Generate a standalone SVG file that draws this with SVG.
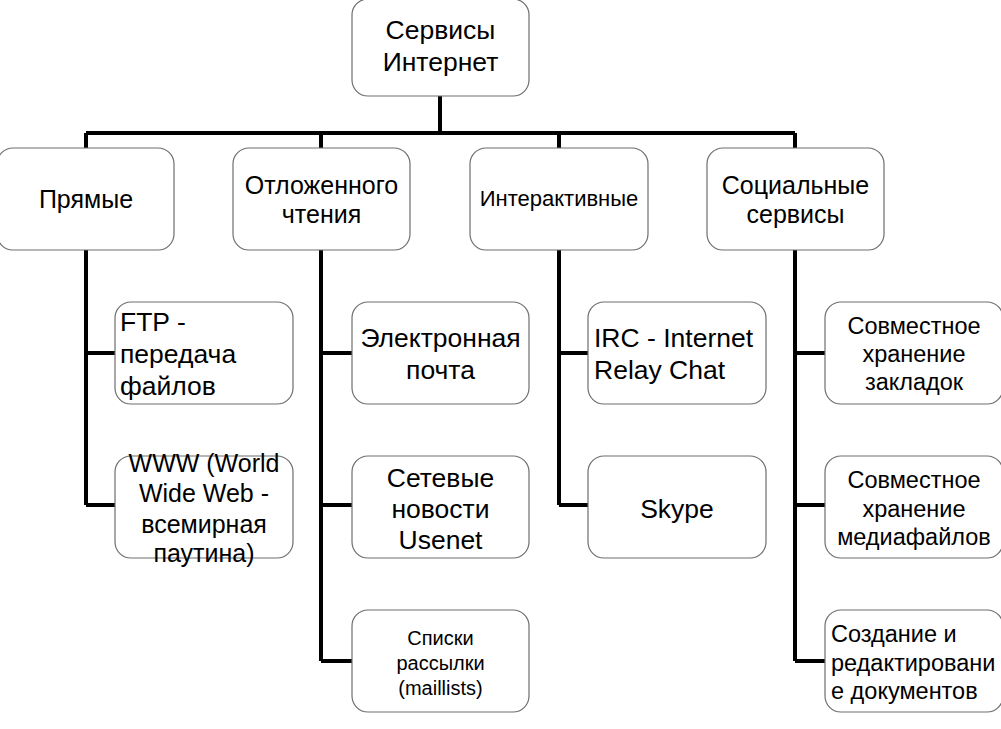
<svg xmlns="http://www.w3.org/2000/svg" width="1001" height="729" viewBox="0 0 1001 729">
<style>
.box{fill:#fff;stroke:#6e6e6e;stroke-width:1.2}
.ln{fill:none;stroke:#000;stroke-width:4;stroke-linejoin:miter}
text{font-family:"Liberation Sans",Arial,sans-serif;fill:#000}
.c{text-anchor:middle}
.f0{font-size:26.5px}
.f1{font-size:25px}
.f2{font-size:26.5px}
.fs{font-size:23.5px}
</style>
<rect width="1001" height="729" fill="#fff"/>
<g id="connectors">
<path class="ln" d="M440,96 V133 M86,133 H795 M86,133 V148 M321,133 V148 M559,133 V148 M795,133 V148"/>
<path class="ln" d="M86,250 V505 M86,353 H115 M86,505 H115"/>
<path class="ln" d="M321,250 V661 M321,353 H352 M321,505 H352 M321,661 H352"/>
<path class="ln" d="M559,250 V505 M559,353 H588 M559,505 H588"/>
<path class="ln" d="M795,250 V661 M795,353 H825 M795,505 H825 M795,661 H825"/>
</g>
<g id="root"><rect class="box" x="352" y="-1" width="177" height="97" rx="16"/>
<text class="c f0" x="440.5" y="39">Сервисы</text><text class="c f0" x="440.5" y="71">Интернет</text></g>
<g id="n-pryamye"><rect class="box" x="-3" y="148" width="177" height="102" rx="16"/>
<text class="c f1" x="86" y="208">Прямые</text></g>
<g id="n-otlozh"><rect class="box" x="233" y="148" width="177" height="102" rx="16"/>
<text class="c f1" x="321.5" y="194">Отложенного</text><text class="c f1" x="321.5" y="223">чтения</text></g>
<g id="n-interakt"><rect class="box" x="470" y="148" width="178" height="102" rx="16"/>
<text class="c" font-size="22" x="559" y="206">Интерактивные</text></g>
<g id="n-social"><rect class="box" x="707" y="148" width="177" height="102" rx="16"/>
<text class="c f1" x="795.5" y="194">Социальные</text><text class="c f1" x="795.5" y="223">сервисы</text></g>
<g id="n-ftp"><rect class="box" x="115" y="302" width="178" height="102" rx="16"/>
<text class="f2" x="120" y="331">FTP -</text><text class="f2" x="120" y="363">передача</text><text class="f2" x="120" y="395">файлов</text></g>
<g id="n-www"><rect class="box" x="115" y="456" width="178" height="102" rx="16"/>
<text class="c f1" x="204" y="472">WWW (World</text><text class="c f1" x="204" y="502">Wide Web -</text><text class="c f1" x="204" y="533">всемирная</text><text class="c f1" x="204" y="562">паутина)</text></g>
<g id="n-email"><rect class="box" x="352" y="302" width="177" height="102" rx="16"/>
<text class="c f2" x="440.5" y="347">Электронная</text><text class="c f2" x="440.5" y="379">почта</text></g>
<g id="n-news"><rect class="box" x="352" y="456" width="177" height="102" rx="16"/>
<text class="c f2" x="440.5" y="487">Сетевые</text><text class="c f2" x="440.5" y="518">новости</text><text class="c f2" x="440.5" y="549">Usenet</text></g>
<g id="n-lists"><rect class="box" x="352" y="610" width="177" height="102" rx="16"/>
<text class="c" font-size="20" x="440.5" y="645">Списки</text><text class="c" font-size="20" x="440.5" y="670">рассылки</text><text class="c" font-size="20" x="440.5" y="695">(maillists)</text></g>
<g id="n-irc"><rect class="box" x="588" y="302" width="178" height="102" rx="16"/>
<text class="f2" x="594" y="347">IRC - Internet</text><text class="f2" x="594" y="379">Relay Chat</text></g>
<g id="n-skype"><rect class="box" x="588" y="456" width="178" height="102" rx="16"/>
<text class="c f2" x="677" y="518">Skype</text></g>
<g id="n-bookmarks"><rect class="box" x="825" y="302" width="178" height="102" rx="16"/>
<text class="c fs" x="914" y="334">Совместное</text><text class="c fs" x="914" y="362">хранение</text><text class="c fs" x="914" y="390">закладок</text></g>
<g id="n-media"><rect class="box" x="825" y="456" width="178" height="102" rx="16"/>
<text class="c fs" x="914" y="488">Совместное</text><text class="c fs" x="914" y="517">хранение</text><text class="c fs" x="914" y="545">медиафайлов</text></g>
<g id="n-docs"><rect class="box" x="825" y="610" width="178" height="102" rx="16"/>
<text class="fs" x="831" y="642">Создание и</text><text class="fs" x="831" y="671">редактировани</text><text class="fs" x="831" y="699">е документов</text></g>
</svg>
